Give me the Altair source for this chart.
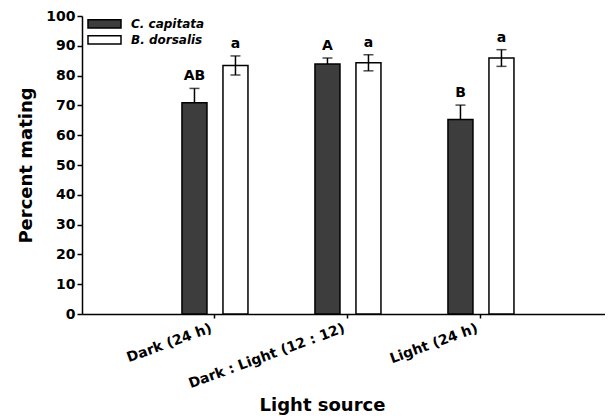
import altair as alt
import pandas as pd

categories = ["Dark (24 h)", "Dark : Light (12 : 12)", "Light (24 h)"]
species = ["C. capitata", "B. dorsalis"]
capitata_mean = [70.9, 83.9, 65.3]
capitata_se = [4.8, 2.0, 4.8]
dorsalis_mean = [83.4, 84.3, 85.9]
dorsalis_se = [3.2, 2.7, 2.8]
capitata_letters = ["AB", "A", "B"]
dorsalis_letters = ["a", "a", "a"]
y_ticks = [0, 10, 20, 30, 40, 50, 60, 70, 80, 90, 100]
colors = ["#3d3d3d", "#ffffff"]

rows = []
for i, c in enumerate(categories):
    rows.append(dict(cat=c, sp=species[0], mean=capitata_mean[i], se=capitata_se[i], letter=capitata_letters[i]))
    rows.append(dict(cat=c, sp=species[1], mean=dorsalis_mean[i], se=dorsalis_se[i], letter=dorsalis_letters[i]))
df = pd.DataFrame(rows)
df["lo"] = df["mean"] - df["se"]
df["hi"] = df["mean"] + df["se"]

FONT = "DejaVu Sans"

x = alt.X(
    "cat:N",
    sort=categories,
    scale=alt.Scale(paddingInner=0, paddingOuter=0.4662, align=0.536),
    axis=alt.Axis(
        title="Light source",
        labelAngle=-20,
        labelAlign="right",
        labelBaseline="top",
        labelOffset=-6,
        labelPadding=3,
        tickSize=4,
        titleX=240,
        titleY=96,
        titleAlign="center",
        titleBaseline="alphabetic",
        titleAnchor="start",
    ),
)
xoff = alt.XOffset("sp:N", sort=species, scale=alt.Scale(paddingInner=0.39, paddingOuter=0.817))
y_scale = alt.Scale(domain=[0, 100], nice=False)
y_axis = alt.Axis(values=y_ticks, title="Percent mating", tickSize=5, labelPadding=2,
                  titlePadding=10, labelOverlap=False)


def Y(field):
    return alt.Y(field, scale=y_scale, axis=y_axis, title="Percent mating")


base = alt.Chart(df)

bars = base.mark_bar(stroke="black", strokeWidth=1.5).encode(
    x=x,
    xOffset=xoff,
    y=Y("mean:Q"),
    color=alt.Color(
        "sp:N",
        sort=species,
        scale=alt.Scale(domain=species, range=colors),
        legend=alt.Legend(
            title=None,
            orient="none",
            legendX=5,
            legendY=0,
            padding=0,
            symbolType="M-1,-0.25H1V0.25H-1Z",
            symbolSize=1089,
            symbolStrokeColor="black",
            symbolStrokeWidth=1.5,
            symbolOpacity=1,
            labelFont=FONT,
            labelFontSize=12,
            labelFontStyle="italic",
            labelFontWeight="bold",
            labelOffset=9,
            rowPadding=0,
            clipHeight=15.5,
        ),
    ),
)


def errbars(sp):
    b = base.transform_filter(alt.datum.sp == sp)
    rule = b.mark_rule(color="black", strokeWidth=1.5).encode(
        x=x, xOffset=xoff, y=Y("lo:Q"), y2="hi:Q"
    )
    cap_hi = b.mark_tick(color="black", thickness=1.5, size=10).encode(
        x=x, xOffset=xoff, y=Y("hi:Q")
    )
    cap_lo = b.mark_tick(color="black", thickness=1.5, size=10).encode(
        x=x, xOffset=xoff, y=Y("lo:Q")
    )
    return [rule, cap_hi, cap_lo]


text = base.mark_text(
    dy=-5, baseline="bottom", font=FONT, fontSize=14, fontWeight="bold", color="black"
).encode(x=x, xOffset=xoff, y=Y("hi:Q"), text="letter:N")

layers = errbars(species[0]) + [bars] + errbars(species[1]) + [text]

chart = (
    alt.layer(*layers)
    .properties(
        width=523,
        height=298,
        padding={"left": 74, "top": 8, "right": 0, "bottom": 104},
        autosize=alt.AutoSizeParams(type="none"),
        background="white",
    )
    .configure_view(stroke=None)
    .configure_axis(
        grid=False,
        domainColor="black",
        domainWidth=1.5,
        tickColor="black",
        tickWidth=1.5,
        labelFont=FONT,
        labelFontSize=14,
        labelFontWeight="bold",
        labelColor="black",
        titleFont=FONT,
        titleFontSize=18,
        titleFontWeight="bold",
        titleColor="black",
    )
)

chart.save("out.html", embed_options={"renderer": "svg", "actions": False})
